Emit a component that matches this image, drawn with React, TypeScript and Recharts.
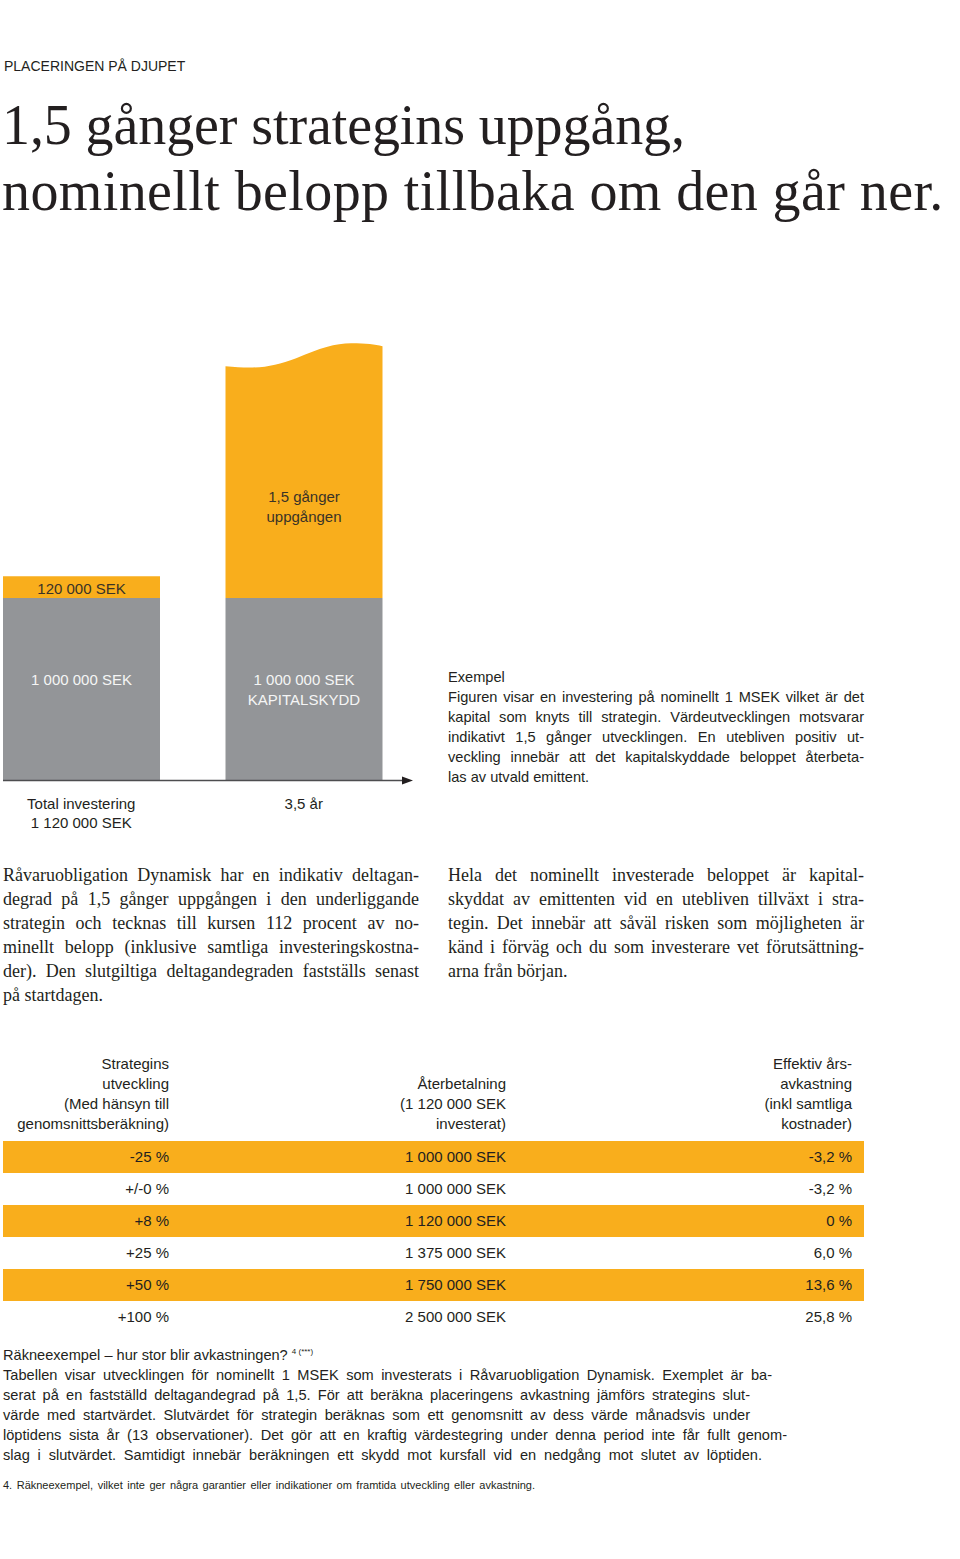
import React from 'react';
import { BarChart, Bar, XAxis, YAxis, ReferenceLine } from 'recharts';

// bar chart data
const categories = ['Total investering', '3,5 år'];
const categorySubLabels = ['1 120 000 SEK', ''];
const protectedValues = [1000000, 1000000];
const upsideValues = [120000, 1400000];
const protectedLabels = [['1 000 000 SEK'], ['1 000 000 SEK', 'KAPITALSKYDD']];
const upsideLabels = [['120 000 SEK'], ['1,5 gånger', 'uppgången']];

// table data
const tableHeaders = [
  ['Strategins', 'utveckling', '(Med hänsyn till', 'genomsnittsberäkning)'],
  ['', 'Återbetalning', '(1 120 000 SEK', 'investerat)'],
  ['Effektiv års-', 'avkastning', '(inkl samtliga', 'kostnader)'],
];
const strategyChanges = ['-25 %', '+/-0 %', '+8 %', '+25 %', '+50 %', '+100 %'];
const repayments = ['1 000 000 SEK', '1 000 000 SEK', '1 120 000 SEK', '1 375 000 SEK', '1 750 000 SEK', '2 500 000 SEK'];
const annualReturns = ['-3,2 %', '-3,2 %', '0 %', '6,0 %', '13,6 %', '25,8 %'];

// texts
const titleLines = ['1,5 gånger strategins uppgång,', 'nominellt belopp tillbaka om den går ner.'];
const exampleLines = [
  'Figuren visar en investering på nominellt 1 MSEK vilket är det',
  'kapital som knyts till strategin. Värdeutvecklingen motsvarar',
  'indikativt 1,5 gånger utvecklingen. En utebliven positiv ut-',
  'veckling innebär att det kapitalskyddade beloppet återbeta-',
  'las av utvald emittent.',
];
const leftParagraph = [
  'Råvaruobligation Dynamisk har en indikativ deltagan-',
  'degrad på 1,5 gånger uppgången i den underliggande',
  'strategin och tecknas till kursen 112 procent av no-',
  'minellt belopp (inklusive samtliga investeringskostna-',
  'der). Den slutgiltiga deltagandegraden fastställs senast',
  'på startdagen.',
];
const rightParagraph = [
  'Hela det nominellt investerade beloppet är kapital-',
  'skyddat av emittenten vid en utebliven tillväxt i stra-',
  'tegin. Det innebär att såväl risken som möjligheten är',
  'känd i förväg och du som investerare vet förutsättning-',
  'arna från början.',
];
const calcLines = [
  'Tabellen visar utvecklingen för nominellt 1  MSEK som investerats i Råvaruobligation Dynamisk. Exemplet är ba-',
  'serat på en fastställd deltagandegrad på 1,5. För att beräkna placeringens avkastning jämförs strategins slut-',
  'värde med startvärdet. Slutvärdet för strategin beräknas som ett genomsnitt av dess värde månadsvis under',
  'löptidens sista år (13 observationer). Det gör att en kraftig värdestegring under denna period inte får fullt genom-',
  'slag i slutvärdet. Samtidigt innebär beräkningen ett skydd mot kursfall vid en nedgång mot slutet av löptiden.',
];
const calcLineWidths = [769, 747, 747, 784, 759];

const ORANGE = '#F9AE1C';
const GREY = '#939598';
const INK = '#231f20';
const SANS = '"Liberation Sans", Arial, sans-serif';
const SERIF = '"Liberation Serif", "Times New Roman", serif';

const chartData = categories.map((name, i) => ({
  name,
  protected: protectedValues[i],
  upside: upsideValues[i],
}));

const ProtectedShape = (props: any) => {
  const { x, y, width, height, index } = props;
  const lines = protectedLabels[index] || [];
  return (
    <g>
      <rect x={x} y={y} width={width} height={height} fill={GREY} />
      {lines.map((l, i) => (
        <text key={i} x={x + width / 2} y={y + height / 2 - 10 + i * 20} textAnchor="middle"
          dominantBaseline="central" fill="#f5f5f5" fontFamily={SANS} fontSize={15}>{l}</text>
      ))}
    </g>
  );
};

const UpsideShape = (props: any) => {
  const { x, y, width: w, height: h, index } = props;
  const lines = upsideLabels[index] || [];
  const wavy = lines.length > 1;
  const d = wavy
    ? `M${x},${y + 23} C${x + 0.2 * w},${y + 26} ${x + 0.3 * w},${y + 24} ${x + 0.45 * w},${y + 15}` +
      ` C${x + 0.6 * w},${y + 5} ${x + 0.7 * w},${y} ${x + 0.8 * w},${y}` +
      ` C${x + 0.9 * w},${y} ${x + 0.95 * w},${y + 1} ${x + w},${y + 3}` +
      ` L${x + w},${y + h} L${x},${y + h} Z`
    : `M${x},${y} H${x + w} V${y + h} H${x} Z`;
  const firstY = wavy ? y + h * 0.64 - 10 : y + h / 2 + 1;
  return (
    <g>
      <path d={d} fill={ORANGE} />
      {lines.map((l, i) => (
        <text key={i} x={x + w / 2} y={firstY + i * 20} textAnchor="middle"
          dominantBaseline="central" fill="#3a3327" fontFamily={SANS} fontSize={15}>{l}</text>
      ))}
    </g>
  );
};

const CategoryTick = (props: any) => {
  const { x, y, payload } = props;
  const i = categories.indexOf(payload.value);
  const lines = [categories[i], categorySubLabels[i]].filter(Boolean);
  return (
    <g>
      {lines.map((l, k) => (
        <text key={k} x={x} y={y + 21 + k * 19} textAnchor="middle" dominantBaseline="central"
          fill={INK} fontFamily={SANS} fontSize={15}>{l}</text>
      ))}
    </g>
  );
};

const ArrowAxis = (props: any) => {
  const { x1, y1, x2 } = props;
  return (
    <g>
      <line x1={x1 + 33} y1={y1 + 0.5} x2={x2 - 12} y2={y1 + 0.5} stroke="#4d4d4f" strokeWidth={1.5} />
      <path d={`M${x2 - 13},${y1 - 3.5} L${x2 - 2},${y1 + 0.5} L${x2 - 13},${y1 + 4.5} Z`} fill={INK} />
    </g>
  );
};

const Lines = ({ lines, left, top, width, fontSize, lineHeight, family, justify = true, lastLeft = true, spacing = 0 }: any) => (
  <div style={{ position: 'absolute', left, top, width, fontFamily: family, fontSize, letterSpacing: spacing, color: INK }}>
    {lines.map((l: string, i: number) => {
      const last = i === lines.length - 1;
      const align = justify && !(last && lastLeft) ? 'justify' : 'left';
      return (
        <div key={i} style={{ height: lineHeight, lineHeight: `${lineHeight}px`, textAlign: align as any, textAlignLast: align as any, overflow: 'visible' }}>{l}</div>
      );
    })}
  </div>
);

const colRight = [169, 506, 852];
const titleSpacing = [-0.1, 0.4];

export default function App() {
  return (
    <div style={{ position: 'absolute', left: 0, top: 0, width: 960, height: 1559, background: '#fff', overflow: 'hidden', color: INK, fontFamily: SANS }}>
      <div style={{ position: 'absolute', left: 4, top: 56, fontSize: 14, lineHeight: '20px' }}>PLACERINGEN PÅ DJUPET</div>
      <div style={{ position: 'absolute', left: 2, top: 92, fontFamily: SERIF, fontSize: 56, lineHeight: '66px', whiteSpace: 'nowrap' }}>
        {titleLines.map((l, i) => <div key={i} style={{ letterSpacing: titleSpacing[i] }}>{l}</div>)}
      </div>

      <div style={{ position: 'absolute', left: -30, top: 300, width: 445, height: 540 }}>
        <BarChart width={445} height={540} data={chartData} margin={{ top: 25, right: 0, bottom: 0, left: 0 }} barCategoryGap={33}>
          <XAxis dataKey="name" axisLine={false} tickLine={false} tickSize={0} height={60} interval={0} tick={<CategoryTick />} />
          <YAxis hide domain={[0, 2500000]} />
          <Bar dataKey="protected" stackId="a" fill={GREY} isAnimationActive={false} shape={ProtectedShape} />
          <Bar dataKey="upside" stackId="a" fill={ORANGE} isAnimationActive={false} shape={UpsideShape} />
          <ReferenceLine y={0} shape={ArrowAxis} />
        </BarChart>
      </div>

      <div style={{ position: 'absolute', left: 448, top: 667, fontSize: 14.6, lineHeight: '20px' }}>Exempel</div>
      <Lines lines={exampleLines} left={448} top={687} width={416} fontSize={14.6} lineHeight={20} family={SANS} />

      <Lines lines={leftParagraph} left={3} top={863} width={416} fontSize={18} lineHeight={24} family={SERIF} />
      <Lines lines={rightParagraph} left={448} top={863} width={416} fontSize={18} lineHeight={24} family={SERIF} />

      {tableHeaders.map((col, c) => (
        <div key={c} style={{ position: 'absolute', left: colRight[c] - 200, top: 1054, width: 200, textAlign: 'right', fontSize: 15, lineHeight: '20px' }}>
          {col.map((l, k) => <div key={k} style={{ height: 20 }}>{l}</div>)}
        </div>
      ))}
      {strategyChanges.map((s, r) => (
        <div key={r} style={{ position: 'absolute', left: 3, top: 1141 + r * 32, width: 861, height: 32, background: r % 2 === 0 ? ORANGE : 'transparent', fontSize: 15, lineHeight: '32px' }}>
          {[s, repayments[r], annualReturns[r]].map((v, c) => (
            <div key={c} style={{ position: 'absolute', left: colRight[c] - 3 - 200, width: 200, textAlign: 'right' }}>{v}</div>
          ))}
        </div>
      ))}

      <div style={{ position: 'absolute', left: 3, top: 1345, height: 20, fontSize: 14.6, lineHeight: '20px', whiteSpace: 'nowrap' }}>
        Räkneexempel – hur stor blir avkastningen? <span style={{ position: 'relative', top: -6, fontSize: 8 }}>4 (***)</span>
      </div>
      {calcLines.map((l, i) => (
        <div key={i} style={{ position: 'absolute', left: 3, top: 1365 + i * 20, width: calcLineWidths[i], fontSize: 14.6, lineHeight: '20px', textAlign: 'justify', textAlignLast: 'justify' }}>{l}</div>
      ))}
      <div style={{ position: 'absolute', left: 3, top: 1478, width: 532, fontSize: 11, lineHeight: '14px', textAlign: 'justify', textAlignLast: 'justify' }}>
        4.  Räkneexempel, vilket inte ger några garantier eller indikationer om framtida utveckling eller avkastning.
      </div>
    </div>
  );
}
